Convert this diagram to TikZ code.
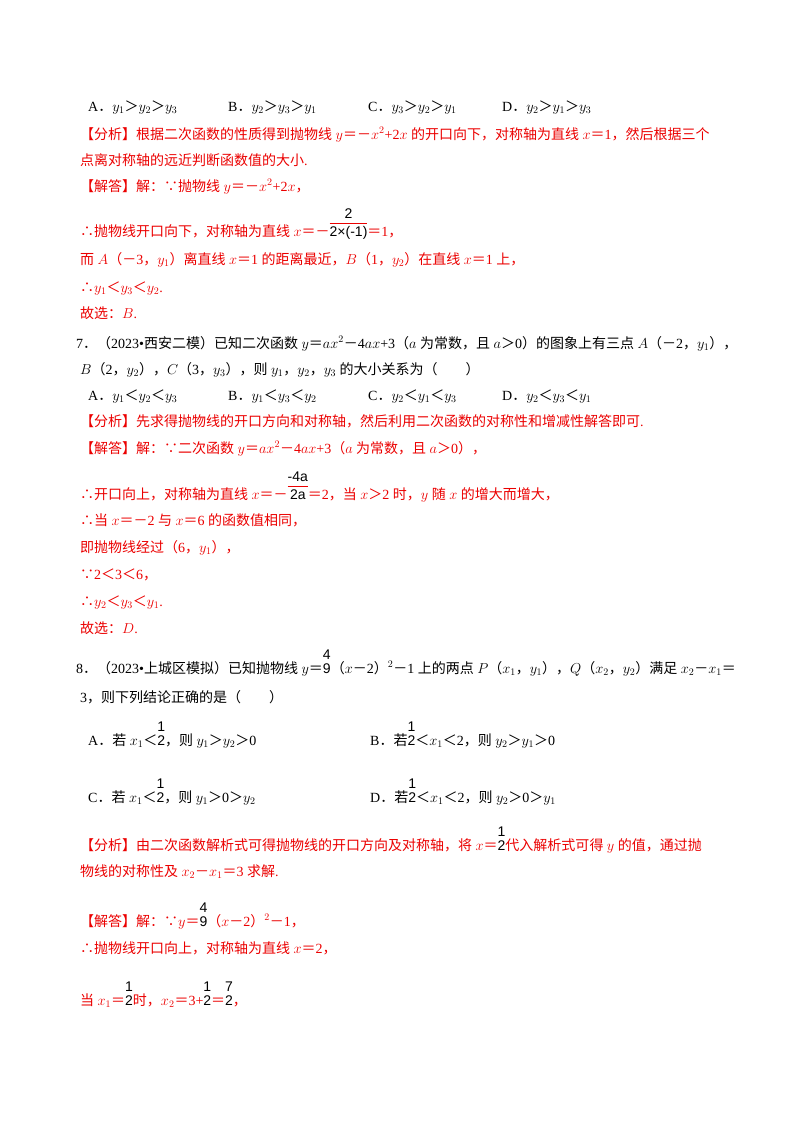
\documentclass[tikz,border=0pt]{standalone}
\usepackage{fontspec}
\setmainfont{Liberation Serif}
\setsansfont{Liberation Sans}
\newfontfamily\cjk{Noto Sans CJK SC}
\definecolor{ans}{RGB}{235,0,0}
\XeTeXinterchartokenstate=1
\newXeTeXintercharclass\cjkcls
\newcount\cc
\cc="3000 \loop \XeTeXcharclass\cc=\cjkcls \advance\cc 1 \ifnum\cc<"A000 \repeat
\cc="FF00 \loop \XeTeXcharclass\cc=\cjkcls \advance\cc 1 \ifnum\cc<"FFF0 \repeat
\XeTeXcharclass"2234=\cjkcls
\XeTeXcharclass"2235=\cjkcls
\XeTeXinterchartoks 0 \cjkcls={\cjk}
\XeTeXinterchartoks 4095 \cjkcls={\cjk}
\XeTeXinterchartoks \cjkcls 0={\rmfamily}
\XeTeXinterchartoks \cjkcls 4095={\rmfamily}
\newcommand\fra[2]{\begin{tabular}[b]{@{}c@{}}\color{black}\sffamily #1\\[-3pt]\color{black}\sffamily #2\end{tabular}}
\newcommand\frb[2]{\begin{tabular}[b]{@{}c@{}}\color{black}\sffamily #1\\[-1pt]\noalign{\hrule height 1.3pt}\color{black}\sffamily #2\end{tabular}}
\tikzset{t/.style={anchor=base west,inner sep=0pt,font=\fontsize{14}{17}\selectfont},
 r/.style={t,text=ans}}
\begin{document}
\begin{tikzpicture}[x=1pt,y=1pt]
\useasboundingbox (0,0) rectangle (800,-1132);
\node[t] (a1) at (88,-111) {A．$y_1$＞$y_2$＞$y_3$};
\node[t] (b1) at (228,-111) {B．$y_2$＞$y_3$＞$y_1$};
\node[t] (c1) at (368,-111) {C．$y_3$＞$y_2$＞$y_1$};
\node[t] (d1) at (502,-111) {D．$y_2$＞$y_1$＞$y_3$};
\node[r] (l2) at (80,-139) {【分析】根据二次函数的性质得到抛物线 $y$＝－$x^2$+2$x$ 的开口向下，对称轴为直线 $x$＝1，然后根据三个};
\node[r] (l3) at (80,-165) {点离对称轴的远近判断函数值的大小.};
\node[r] (l4) at (80,-191) {【解答】解：∵抛物线 $y$＝－$x^2$+2$x$，};
\node[r] (l5) at (80,-236) {∴抛物线开口向下，对称轴为直线 $x$＝－\frb{2}{2×(-1)}＝1，};
\node[r] (l6) at (80,-264) {而 $A$（－3，$y_1$）离直线 $x$＝1 的距离最近，$B$（1，$y_2$）在直线 $x$＝1 上，};
\node[r] (l7) at (80,-292) {∴$y_1$＜$y_3$＜$y_2$.};
\node[r] (l8) at (80,-318) {故选：$B$.};
\node[t] (l9) at (76,-348) {7．（2023•西安二模）已知二次函数 $y$＝$ax^2$－4$ax$+3（$a$ 为常数，且 $a$＞0）的图象上有三点 $A$（－2，$y_1$），};
\node[t] (l10) at (80,-374) {$B$（2，$y_2$），$C$（3，$y_3$），则 $y_1$，$y_2$，$y_3$ 的大小关系为（　　）};
\node[t] (a2) at (88,-400) {A．$y_1$＜$y_2$＜$y_3$};
\node[t] (b2) at (228,-400) {B．$y_1$＜$y_3$＜$y_2$};
\node[t] (c2) at (368,-400) {C．$y_2$＜$y_1$＜$y_3$};
\node[t] (d2) at (502,-400) {D．$y_2$＜$y_3$＜$y_1$};
\node[r] (l12) at (80,-426) {【分析】先求得抛物线的开口方向和对称轴，然后利用二次函数的对称性和增减性解答即可.};
\node[r] (l13) at (80,-453) {【解答】解：∵二次函数 $y$＝$ax^2$－4$ax$+3（$a$ 为常数，且 $a$＞0），};
\node[r] (l14) at (80,-499) {∴开口向上，对称轴为直线 $x$＝－\frb{-4a}{2a}＝2，当 $x$＞2 时，$y$ 随 $x$ 的增大而增大，};
\node[r] (l15) at (80,-525) {∴当 $x$＝－2 与 $x$＝6 的函数值相同，};
\node[r] (l16) at (80,-552) {即抛物线经过（6，$y_1$），};
\node[r] (l17) at (80,-579) {∵2＜3＜6，};
\node[r] (l18) at (80,-606) {∴$y_2$＜$y_3$＜$y_1$.};
\node[r] (l19) at (80,-633) {故选：$D$.};
\node[t] (l20) at (76,-673) {8．（2023•上城区模拟）已知抛物线 $y$＝\fra{4}{9}（$x$－2）$^2$－1 上的两点 $P$（$x_1$，$y_1$），$Q$（$x_2$，$y_2$）满足 $x_2$－$x_1$＝};
\node[t] (l21) at (80,-702) {3，则下列结论正确的是（　　）};
\node[t] (a3) at (88,-745) {A．若 $x_1$＜\fra{1}{2}，则 $y_1$＞$y_2$＞0};
\node[t] (b3) at (370,-745) {B．若\fra{1}{2}＜$x_1$＜2，则 $y_2$＞$y_1$＞0};
\node[t] (c3) at (88,-802) {C．若 $x_1$＜\fra{1}{2}，则 $y_1$＞0＞$y_2$};
\node[t] (d3) at (370,-802) {D．若\fra{1}{2}＜$x_1$＜2，则 $y_2$＞0＞$y_1$};
\node[r] (l24) at (80,-850) {【分析】由二次函数解析式可得抛物线的开口方向及对称轴，将 $x$＝\fra{1}{2}代入解析式可得 $y$ 的值，通过抛};
\node[r] (l25) at (80,-876) {物线的对称性及 $x_2$－$x_1$＝3 求解.};
\node[r] (l26) at (80,-926) {【解答】解：∵$y$＝\fra{4}{9}（$x$－2）$^2$－1，};
\node[r] (l27) at (80,-953) {∴抛物线开口向上，对称轴为直线 $x$＝2，};
\node[r] (l28) at (80,-1005) {当 $x_1$＝\fra{1}{2}时，$x_2$＝3+\fra{1}{2}＝\fra{7}{2}，};
\end{tikzpicture}
\end{document}
